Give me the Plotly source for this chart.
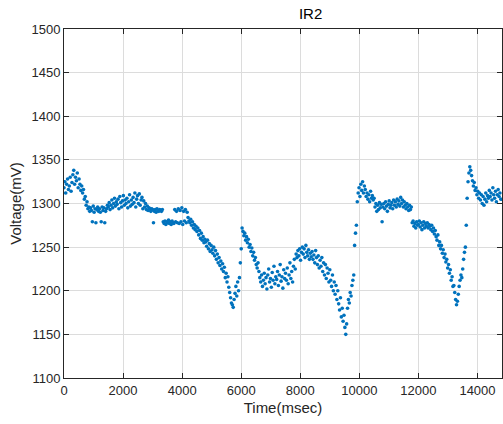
import numpy as np
import plotly.graph_objects as go

# Time axis (msec), sampled every 30 ms
time_ms = list(range(0, 14800, 30))

# Voltage readings (mV)
voltage_mv = [
    1318, 1325, 1312, 1322, 1328, 1316, 1320, 1330, 1314, 1324,
    1333, 1338, 1322, 1330, 1326, 1335, 1318, 1328, 1322, 1315,
    1320, 1312, 1316, 1305, 1308, 1298, 1302, 1294, 1296, 1291,
    1295, 1292, 1279, 1297, 1290, 1294, 1278, 1293, 1296, 1291,
    1294, 1290, 1279, 1296, 1292, 1295, 1278, 1291, 1294, 1298,
    1296, 1301, 1293, 1298, 1304, 1295, 1300, 1306, 1297, 1302,
    1299, 1305, 1294, 1308, 1301, 1296, 1303, 1309, 1298, 1304,
    1300, 1306, 1295, 1302, 1310, 1297, 1304, 1299, 1307, 1301,
    1312, 1296, 1305, 1309, 1300, 1311, 1298, 1304, 1307, 1294,
    1303, 1296, 1300, 1293, 1297, 1292, 1295, 1294, 1291, 1294,
    1293, 1278, 1291, 1293, 1290, 1294, 1292, 1291, 1293, 1292,
    1291, 1293, 1279, 1277, 1280, 1276, 1279, 1278, 1281, 1277,
    1279, 1276, 1280, 1278, 1277, 1293, 1279, 1291, 1278, 1294,
    1277, 1292, 1279, 1295, 1276, 1291, 1280, 1293, 1278, 1290,
    1284, 1280, 1278, 1282, 1275, 1279, 1272, 1276, 1270, 1274,
    1268, 1272, 1264, 1269, 1260, 1266, 1258, 1262, 1255, 1259,
    1256, 1251, 1258, 1248, 1254, 1245, 1252, 1247, 1243, 1250,
    1240, 1246, 1236, 1242, 1232, 1238, 1229, 1234, 1225, 1231,
    1222, 1227, 1215, 1220, 1210, 1216, 1204, 1198, 1192, 1186,
    1184, 1181, 1190, 1197, 1205, 1194, 1210, 1200, 1215, 1232,
    1248, 1272, 1268, 1263, 1266, 1258, 1262, 1255, 1259, 1250,
    1253, 1245, 1249, 1240, 1244, 1235, 1238, 1230, 1226, 1232,
    1222, 1215, 1210, 1218, 1205, 1212, 1220, 1208, 1215, 1202,
    1218, 1225, 1210, 1214, 1204, 1221, 1212, 1228, 1208, 1216,
    1213, 1222, 1206, 1218, 1230, 1211, 1216, 1203, 1224, 1214,
    1220, 1212, 1226, 1208, 1218, 1232, 1214, 1222, 1210, 1228,
    1236, 1225, 1242, 1238, 1246, 1240, 1248, 1235, 1244, 1250,
    1242, 1248, 1238, 1252, 1244, 1240, 1247, 1236, 1243, 1239,
    1245, 1236, 1241, 1232, 1246, 1238, 1230, 1240, 1226, 1235,
    1228, 1238, 1222, 1232, 1218, 1230, 1214, 1226, 1220, 1210,
    1224, 1212, 1205, 1218, 1200, 1210, 1196, 1206, 1190, 1200,
    1185, 1178, 1192, 1170, 1180, 1165, 1172, 1158, 1150, 1162,
    1180, 1190, 1186, 1198, 1194, 1206, 1212, 1218, 1252, 1266,
    1275, 1302, 1312, 1318, 1308, 1322, 1315, 1325, 1312, 1320,
    1316, 1308, 1312, 1305, 1310, 1302, 1314, 1306, 1309, 1304,
    1306, 1296, 1300, 1291, 1298, 1293, 1301, 1295, 1299, 1279,
    1296, 1300, 1294, 1302, 1297, 1291, 1299, 1303, 1295, 1298,
    1301, 1294, 1304, 1298, 1302, 1296, 1305, 1299, 1303, 1297,
    1307, 1300, 1304, 1296, 1302, 1298, 1294, 1300, 1296, 1292,
    1298, 1293, 1296, 1278, 1280, 1274, 1277, 1272, 1279, 1275,
    1276, 1280, 1273, 1278, 1270, 1275, 1279, 1272, 1277, 1274,
    1278, 1272, 1276, 1274, 1270, 1275, 1268, 1272, 1265, 1269,
    1262, 1258, 1264, 1252, 1256, 1248, 1252, 1243, 1247, 1238,
    1242, 1233, 1236, 1226, 1230, 1220, 1224, 1212, 1216, 1205,
    1206, 1198, 1190, 1184, 1188, 1196, 1205, 1212, 1218, 1215,
    1225, 1236, 1244, 1250, 1275, 1306, 1325, 1335, 1342, 1338,
    1332, 1326, 1320, 1324, 1315, 1318, 1310, 1314, 1306, 1312,
    1304, 1310, 1300, 1308, 1298, 1305, 1312, 1302, 1309, 1306,
    1315, 1308, 1312, 1304, 1318, 1310, 1306, 1314, 1302, 1310,
    1316, 1308, 1312, 1305,
]

x_ticks = [0, 2000, 4000, 6000, 8000, 10000, 12000, 14000]
y_ticks = [1100, 1150, 1200, 1250, 1300, 1350, 1400, 1450, 1500]

n = min(len(time_ms), len(voltage_mv))

fig = go.Figure()
fig.add_trace(go.Scatter(
    x=time_ms[:n], y=voltage_mv[:n], mode="markers",
    marker=dict(color="#0072BD", size=3.6, line=dict(width=0)),
    showlegend=False,
))

axis_common = dict(
    showline=True, linecolor="#262626", linewidth=1, mirror="ticks",
    ticks="inside", ticklen=5, tickcolor="#262626",
    showgrid=True, gridcolor="#dcdcdc", gridwidth=1,
    zeroline=False,
    tickfont=dict(family="Liberation Sans, Arial, sans-serif", size=13, color="#262626"),
)

fig.update_layout(
    width=503, height=424,
    margin=dict(l=64, r=1, t=29, b=46),
    paper_bgcolor="white", plot_bgcolor="white",
    title=dict(text="IR2", x=0.563, xref="paper", xanchor="center",
               y=1 - 14 / 424, yref="container", yanchor="middle",
               font=dict(family="Liberation Sans, Arial, sans-serif", size=15, color="#000000")),
    xaxis=dict(range=[0, 14830], tickvals=x_ticks,
               ticktext=[str(v) for v in x_ticks],
               title=dict(text="Time(msec)", standoff=5,
                          font=dict(family="Liberation Sans, Arial, sans-serif", size=15, color="#262626")),
               **axis_common),
    yaxis=dict(range=[1100, 1500], tickvals=y_ticks,
               ticktext=[str(v) for v in y_ticks],
               title=dict(text="Voltage(mV)", standoff=6,
                          font=dict(family="Liberation Sans, Arial, sans-serif", size=15, color="#262626")),
               **axis_common),
)

fig.write_html("out.html")
